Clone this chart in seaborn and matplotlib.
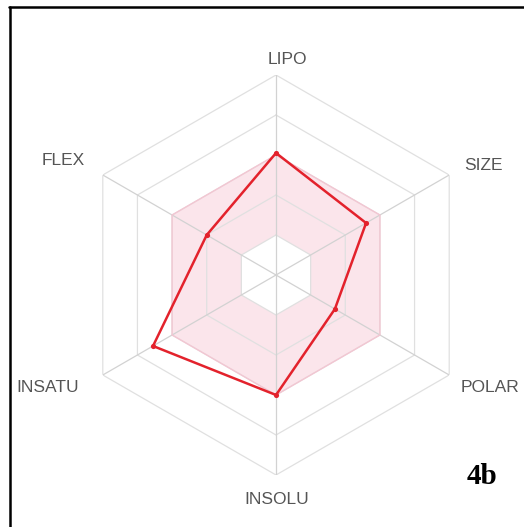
import numpy as np
import matplotlib
matplotlib.use("Agg")
import matplotlib.pyplot as plt
import seaborn as sns
from matplotlib.lines import Line2D

sns.set_theme(style="white")
plt.rcParams["font.family"] = ["Liberation Sans", "DejaVu Sans"]

# ---- data ----
categories = ["LIPO", "SIZE", "POLAR", "INSOLU", "INSATU", "FLEX"]
values = [0.61, 0.52, 0.34, 0.60, 0.71, 0.40]
optimal_low = [0.2, 0.2, 0.2, 0.2, 0.2, 0.2]
optimal_high = [0.6, 0.6, 0.6, 0.6, 0.6, 0.6]
rings = [0.2, 0.4, 0.6, 0.8, 1.0]
panel_label = "4b"

W, H = 524, 527
fig = plt.figure(figsize=(W / 100, H / 100), dpi=100)
fig.patch.set_facecolor("white")

cx, cy, R = 276, 275, 200
ax = fig.add_axes([(cx - R) / W, (H - cy - R) / H, 2 * R / W, 2 * R / H],
                  projection="polar")
ax.set_theta_offset(np.pi / 2)
ax.set_theta_direction(-1)
ax.set_ylim(0, 1)
ax.grid(False)
ax.spines["polar"].set_visible(False)
ax.set_xticks([])
ax.set_yticks([])
ax.set_facecolor("none")

n = len(categories)
theta = np.arange(n) * 2 * np.pi / n
theta_c = np.append(theta, theta[0])

def closed(v):
    v = list(v)
    return np.array(v + v[:1])

# optimal band
ax.fill(theta_c, closed(optimal_high), color="#fbe5eb", zorder=1, lw=0)
ax.fill(theta_c, closed(optimal_low), color="white", zorder=1.5, lw=0)

# hexagonal grid rings
for r in rings:
    ax.plot(theta_c, np.full(n + 1, r), color="#e0e0e0", lw=0.9, zorder=2)
# spokes
for t in theta:
    ax.plot([t, t], [0, 1], color="#d2d2d2", lw=0.9, zorder=2)

# band edge
ax.plot(theta_c, closed(optimal_high), color="#f3c6d2", lw=1.0, zorder=2.5)

# compound profile
sns.lineplot(x=theta_c, y=closed(values), sort=False, ax=ax, color="#e3222c",
             lw=1.8, zorder=3, estimator=None)
ax.scatter(theta, values, s=14, color="#e3222c", zorder=4, lw=0)
ax.set_xlabel("")
ax.set_ylabel("")
ax.set_ylim(0, 1)

# labels
lab_pos = {
    "LIPO": (287, 59, "center"),
    "SIZE": (483, 165, "center"),
    "POLAR": (461, 388, "left"),
    "INSOLU": (277, 500, "center"),
    "INSATU": (48, 388, "center"),
    "FLEX": (63, 161, "center"),
}
for c in categories:
    x, y, ha = lab_pos[c]
    fig.text(x / W, 1 - y / H, c, ha=ha, va="center", fontsize=12.5,
             color="#555555")

fig.text(482 / W, 1 - 477 / H, panel_label, ha="center", va="center",
         fontsize=21, fontweight="bold", family=["Liberation Serif"],
         color="black")

# frame lines (top and left)
fig.add_artist(Line2D([9 / W, 1], [1 - 7 / H, 1 - 7 / H],
                      transform=fig.transFigure, color="black", lw=1.8))
fig.add_artist(Line2D([10 / W, 10 / W], [0, 1 - 7 / H],
                      transform=fig.transFigure, color="black", lw=1.8))

fig.savefig("out.png", dpi=100, facecolor="white")
